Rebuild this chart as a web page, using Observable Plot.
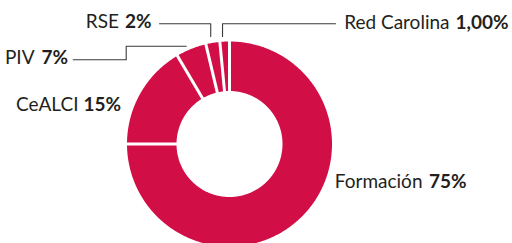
<!DOCTYPE html>
<html><head><meta charset="utf-8">
<script src="https://cdn.jsdelivr.net/npm/d3@7"></script>
<script src="https://cdn.jsdelivr.net/npm/@observablehq/plot@0.6"></script>
<style>html,body{margin:0;padding:0;background:#fff;overflow:hidden} svg{display:block}</style>
</head><body><div id="chart"></div>
<script>
// ---- data ----
const categories = ["Formación", "CeALCI", "PIV", "RSE", "Red Carolina"];
const shares = [75, 16.5, 4.8, 2.2, 1.5];            // slice sizes as drawn
const valueLabels = ["75%", "15%", "7%", "2%", "1,00%"];

// ---- layout ----
const W = 512, H = 243, CX = 229, CY = 143.5, R = 102.5, R0 = 53;
const COLOR = "#d20e46", INK = "#231f20", LINE = "#3a3a3a";
const FONT = "Lato, 'Liberation Sans', sans-serif", FS = 19;
const px = v => v - CX, py = v => v - CY;

const total = d3.sum(shares);
let acc = 0;
const slices = categories.map((c, i) => {
  const a0 = acc / total * 2 * Math.PI; acc += shares[i];
  const a1 = acc / total * 2 * Math.PI;
  return {c, i, a0, a1};
});
const pt = (r, a) => ({x: r * Math.sin(a), y: -r * Math.cos(a)});

const ring = [];
for (const s of slices) {
  const n = Math.max(6, Math.ceil((s.a1 - s.a0) / 0.01));
  for (let k = 0; k <= n; k++) ring.push({...pt(R, s.a0 + (s.a1 - s.a0) * k / n), c: s.c});
  for (let k = n; k >= 0; k--) ring.push({...pt(R0, s.a0 + (s.a1 - s.a0) * k / n), c: s.c});
}
const seps = slices.map(s => {
  const p0 = pt(R0 - 2, s.a0), p1 = pt(R + 2, s.a0);
  return {x1: p0.x, y1: p0.y, x2: p1.x, y2: p1.y};
});

// leader lines
const anchorX = i => pt(R, (slices[i].a0 + slices[i].a1) / 2 - 1.2 * Math.PI / 180).x;
const leaders = [];
const addPath = (id, pts) => pts.forEach((p, k) => leaders.push({id, k, x: p[0], y: p[1]}));
addPath("rc", [[anchorX(4), py(36)], [anchorX(4), py(23.3)], [px(335), py(23.3)]]);
addPath("rse", [[anchorX(3), py(36)], [anchorX(3), py(23.3)], [px(159), py(23.3)]]);
addPath("piv", [[px(185.7), py(45.7)], [px(125.7), py(45.7)], [px(125.7), py(59.3)], [px(72.7), py(59.3)]]);

// label placement: junction between name and value, vertical middle
const place = {
  "Formación":    {xe: 422, xs: 428.5, y: 181.5},
  "CeALCI":       {xe: 78,  xs: 83,    y: 104},
  "PIV":          {xe: 34,  xs: 41,    y: 57.7},
  "RSE":          {xe: 118.5, xs: 124.5, y: 21.7},
  "Red Carolina": {xe: 449, xs: 455,   y: 22.5}
};
const labels = categories.map((c, i) => ({
  name: c, value: valueLabels[i],
  xe: px(place[c].xe), xs: px(place[c].xs), y: py(place[c].y)
}));

const chart = Plot.plot({
  width: W, height: H, margin: 0,
  axis: null,
  x: {domain: [-CX, W - CX], range: [0, W]},
  y: {domain: [-CY, H - CY], range: [0, H]},
  style: {background: "#fff", overflow: "hidden"},
  marks: [
    Plot.line(ring, {x: "x", y: "y", z: "c", fill: COLOR, stroke: "none", curve: "linear-closed"}),
    Plot.link(seps, {x1: "x1", y1: "y1", x2: "x2", y2: "y2", stroke: "#fff", strokeWidth: 3}),
    Plot.line(leaders, {x: "x", y: "y", z: "id", stroke: LINE, strokeWidth: 1.1}),
    Plot.text(labels, {x: "xe", y: "y", text: "name", textAnchor: "end", fontSize: FS, fontFamily: FONT, fill: INK}),
    Plot.text(labels, {x: "xs", y: "y", text: "value", textAnchor: "start", fontSize: FS, fontFamily: FONT, fontWeight: "bold", fill: INK})
  ]
});
document.getElementById("chart").appendChild(chart);
</script>
</body></html>
